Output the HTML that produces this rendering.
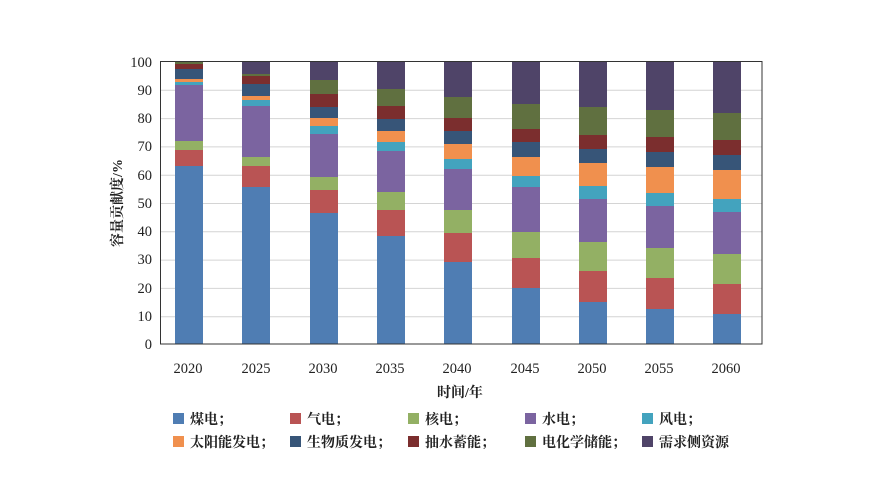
<!DOCTYPE html>
<html><head><meta charset="utf-8"><style>
html,body{margin:0;padding:0;background:#fff;width:879px;height:501px;overflow:hidden}
svg text{font-family:"Liberation Serif","Noto Serif CJK SC",serif;fill:#222}
</style></head><body>
<svg width="879" height="501" viewBox="0 0 879 501" xmlns="http://www.w3.org/2000/svg">
<g stroke="#d4d4d4" stroke-width="1">
<line x1="160" x2="762" y1="90.3" y2="90.3"/><line x1="160" x2="762" y1="118.6" y2="118.6"/>
<line x1="160" x2="762" y1="146.9" y2="146.9"/><line x1="160" x2="762" y1="175.2" y2="175.2"/>
<line x1="160" x2="762" y1="203.5" y2="203.5"/><line x1="160" x2="762" y1="231.8" y2="231.8"/>
<line x1="160" x2="762" y1="260.1" y2="260.1"/><line x1="160" x2="762" y1="288.4" y2="288.4"/>
<line x1="160" x2="762" y1="316.7" y2="316.7"/>
</g>
<g id="bars"></g>
<rect x="160.5" y="61.5" width="601.5" height="282.5" fill="none" stroke="#333" stroke-width="1"/>
<g font-size="14.5" text-anchor="end">
<text x="152" y="349">0</text><text x="152" y="321">10</text><text x="152" y="293">20</text>
<text x="152" y="264">30</text><text x="152" y="236">40</text><text x="152" y="208">50</text>
<text x="152" y="180">60</text><text x="152" y="151">70</text><text x="152" y="123">80</text>
<text x="152" y="95">90</text><text x="152" y="67">100</text>
</g>
<g font-size="14.5" text-anchor="middle">
<text x="188" y="373">2020</text><text x="256" y="373">2025</text><text x="323" y="373">2030</text>
<text x="390" y="373">2035</text><text x="457" y="373">2040</text><text x="525" y="373">2045</text>
<text x="592" y="373">2050</text><text x="659" y="373">2055</text><text x="726" y="373">2060</text>
</g>
<text x="460" y="397" font-size="14" font-weight="bold" text-anchor="middle">时间/年</text>
<text transform="translate(122,203) rotate(-90)" font-size="14" font-weight="bold" text-anchor="middle">容量贡献度/%</text>
<g font-size="14" font-weight="bold">
<rect x="173" y="413" width="11" height="11" fill="#4f7db3"/><text x="190" y="424">煤电；</text>
<rect x="290" y="413" width="11" height="11" fill="#b95454"/><text x="307" y="424">气电；</text>
<rect x="408" y="413" width="11" height="11" fill="#93b064"/><text x="425" y="424">核电；</text>
<rect x="525" y="413" width="11" height="11" fill="#7b64a0"/><text x="542" y="424">水电；</text>
<rect x="642" y="413" width="11" height="11" fill="#43a3be"/><text x="659" y="424">风电；</text>
<rect x="173" y="436" width="11" height="11" fill="#f0904e"/><text x="190" y="447">太阳能发电；</text>
<rect x="290" y="436" width="11" height="11" fill="#375578"/><text x="307" y="447">生物质发电；</text>
<rect x="408" y="436" width="11" height="11" fill="#7b2e2e"/><text x="425" y="447">抽水蓄能；</text>
<rect x="525" y="436" width="11" height="11" fill="#607040"/><text x="542" y="447">电化学储能；</text>
<rect x="642" y="436" width="11" height="11" fill="#4f4468"/><text x="659" y="447">需求侧资源</text>
</g>
</svg>
<script>
var cols=["#4f7db3","#b95454","#93b064","#7b64a0","#43a3be","#f0904e","#375578","#7b2e2e","#607040","#4f4468"];
var xs=[189,256,324,391,458,526,593,660,727];
var tops=[
[166,150,141,85,82,79,69,64,61,61],
[187,166,157,106,100,96,84,76,74,61],
[213,190,177,134,126,118,107,94,80,61],
[236,210,192,151,142,131,119,106,89,61],
[262,233,210,169,159,144,131,118,97,61],
[288,258,232,187,176,157,142,129,104,61],
[302,271,242,199,186,163,149,135,107,61],
[309,278,248,206,193,167,152,137,110,61],
[314,284,254,212,199,170,155,140,113,61]];
var g=document.getElementById("bars"),s="";
for(var i=0;i<9;i++){var prev=344;for(var j=0;j<10;j++){var t=tops[i][j];if(prev-t>0)s+='<rect x="'+(xs[i]-14)+'" y="'+t+'" width="28" height="'+(prev-t)+'" fill="'+cols[j]+'"/>';prev=t;}}
g.innerHTML=s;
</script>
</body></html>
